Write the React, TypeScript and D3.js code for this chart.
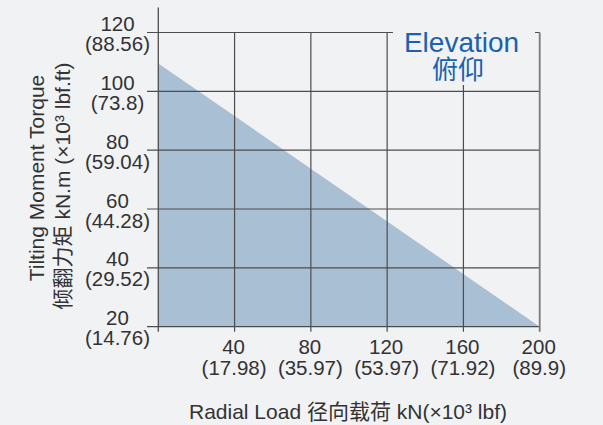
import React from 'react';
import * as d3 from 'd3';

// Data
const radialLoad = [0, 200]; // kN
const tiltingTorque = [109.5, 20]; // kN.m
const xTicks = [40, 80, 120, 160, 200];
const xTickSub = ['(17.98)', '(35.97)', '(53.97)', '(71.92)', '(89.9)'];
const yTicks = [20, 40, 60, 80, 100, 120];
const yTickSub = ['(14.76)', '(29.52)', '(44.28)', '(59.04)', '(73.8)', '(88.56)'];
const legendEn = 'Elevation';
const legendZh = '俯仰';
const xTitle = 'Radial Load 径向载荷 kN(×10³ lbf)';
const yTitle1 = 'Tilting Moment Torque';
const yTitle2 = '倾翻力矩 kN.m (×10³ lbf.ft)';

const W = 603;
const H = 425;
const FONT = "'Liberation Sans', Arial, 'Noto Sans CJK SC', sans-serif";

export default function App() {
  const x = d3.scaleLinear().domain([0, 200]).range([158.3, 539.7]);
  const y = d3.scaleLinear().domain([20, 120]).range([326.7, 32.5]);
  const pts = radialLoad.map((r, i) => ({ r, t: tiltingTorque[i] }));
  const area = d3
    .area<{ r: number; t: number }>()
    .x((d) => x(d.r))
    .y0(y(20))
    .y1((d) => y(d.t));

  const gridColor = '#4d4d4d';
  const textColor = '#333333';
  const blue = '#1b61ad';

  return (
    <svg
      width={W}
      height={H}
      style={{ position: 'absolute', left: 0, top: 0, display: 'block' }}
      fontFamily={FONT}
    >
      <rect x={0} y={0} width={W} height={H} fill="#f1f2f4" />
      <path d={area(pts) || ''} fill="#a9bfd4" />

      {/* horizontal gridlines */}
      {yTicks.map((v) => (
        <line
          key={'h' + v}
          x1={147}
          x2={x(200)}
          y1={y(v)}
          y2={y(v)}
          stroke={gridColor}
          strokeWidth={1.2}
        />
      ))}
      {/* vertical gridlines */}
      {xTicks.map((v) => (
        <line
          key={'v' + v}
          x1={x(v)}
          x2={x(v)}
          y1={y(120)}
          y2={y(20) + 5}
          stroke={v === 200 ? '#7a7a7a' : gridColor}
          strokeWidth={v === 200 ? 1.8 : 1.2}
        />
      ))}
      {/* y axis */}
      <line x1={x(0)} x2={x(0)} y1={7.5} y2={y(20) + 5} stroke={gridColor} strokeWidth={1.3} />

      {/* legend box */}
      <rect x={393} y={24} width={142} height={61} fill="#f1f2f4" />
      <text x={461.5} y={51.5} textAnchor="middle" fontSize={28} fill={blue}>
        {legendEn}
      </text>
      <text x={458} y={79} textAnchor="middle" fontSize={26} fill={blue}>
        {legendZh}
      </text>

      {/* y tick labels */}
      {yTicks.map((v, i) => (
        <g key={'yl' + v} fill={textColor} fontSize={20.5} textAnchor="middle">
          <text x={117.5} y={y(v) - 1.5}>
            {v}
          </text>
          <text x={117.5} y={y(v) + 18.5}>
            {yTickSub[i]}
          </text>
        </g>
      ))}

      {/* x tick labels */}
      {xTicks.map((v, i) => (
        <g key={'xl' + v} fill={textColor} fontSize={20.5} textAnchor="middle">
          <text x={x(v) - 1} y={354}>
            {v}
          </text>
          <text x={x(v) - 0.5} y={375}>
            {xTickSub[i]}
          </text>
        </g>
      ))}

      {/* axis titles */}
      <text x={348} y={419} textAnchor="middle" fontSize={21} fill={textColor}>
        {xTitle}
      </text>
      <text
        transform={`translate(43.5,178) rotate(-90)`}
        textAnchor="middle"
        fontSize={21}
        fill={textColor}
      >
        {yTitle1}
      </text>
      <text
        transform={`translate(69.5,186) rotate(-90)`}
        textAnchor="middle"
        fontSize={21}
        fill={textColor}
      >
        {yTitle2}
      </text>
    </svg>
  );
}
